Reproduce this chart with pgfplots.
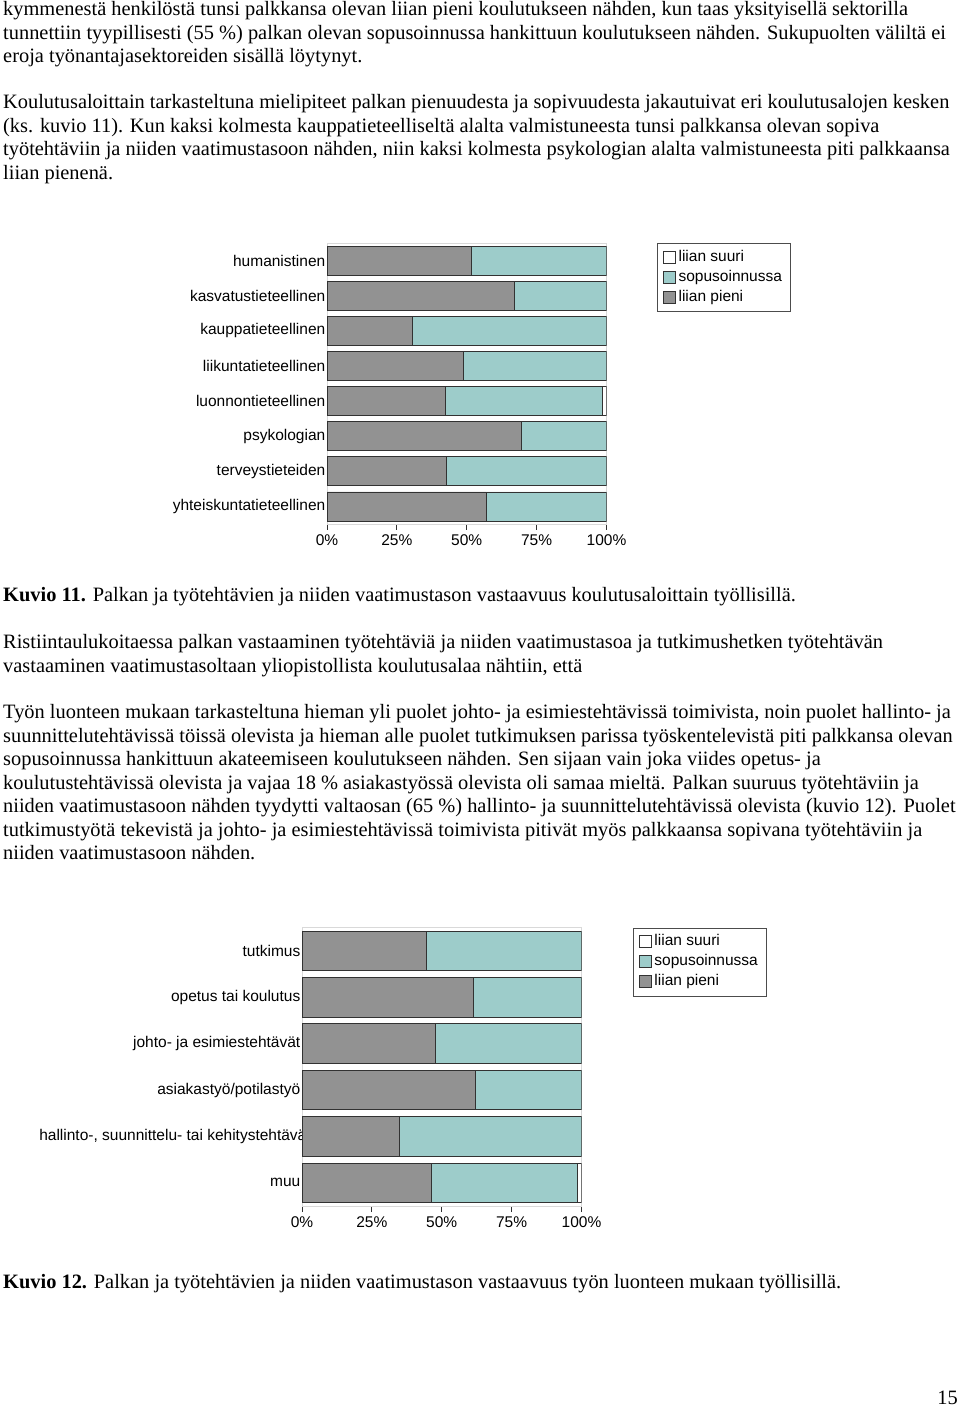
\documentclass[border=0pt]{standalone}
\usepackage{fontspec}
\setmainfont{Liberation Serif}
\newfontfamily\chartfont{Liberation Sans}
\usepackage{pgfplots}
\pgfplotsset{compat=1.18}

\definecolor{pieni}{RGB}{146,146,146}
\definecolor{sopu}{RGB}{157,204,202}
\definecolor{reuna}{RGB}{50,50,50}

% one line of body text, #1 = baseline measured from the top of the page
\newcommand\rivi[2]{\node[anchor=base west, inner sep=0pt,
  font=\fontsize{20.4}{23.5}\selectfont] at (3,{1408-#1}) {#2};}

\pgfplotsset{
  palkit/.style={
    xbar stacked, scale only axis, width=279.5pt,
    xmin=0, xmax=100, y dir=reverse,
    axis line style={black!15},
    xtick={0,25,50,75,100},
    xticklabels={0\%,25\%,50\%,75\%,100\%},
    xtick pos=bottom, tick align=outside, major tick length=6pt,
    xtick style={draw=reuna, line width=0.9pt},
    ytick style={draw=none},
    tick label style={font=\chartfont\fontsize{15.5}{18}\selectfont},
    xticklabel style={text height=11pt, text depth=3pt, yshift=-1pt},
    yticklabel style={xshift=6pt, inner xsep=1.5pt},
    every axis plot/.append style={draw=reuna, line width=0.8pt},
    reverse legend,
    legend style={anchor=north west, draw=black!70,
      font=\chartfont\fontsize{15.5}{18}\selectfont,
      inner xsep=6pt, inner ysep=4pt,
      nodes={inner xsep=2.5pt, inner ysep=2pt, text height=12pt, text depth=4pt},
      cells={anchor=west}},
    legend image code/.code={\draw[#1] (0pt,-6pt) rectangle (12pt,6pt);},
  }
}

\begin{document}
\begin{tikzpicture}[x=1pt,y=1pt]
\path[use as bounding box] (0,0) rectangle (960,1408);

\rivi{16}{kymmenestä henkilöstä tunsi palkkansa olevan liian pieni koulutukseen nähden, kun taas yksityisellä sektorilla}
\rivi{39.5}{tunnettiin tyypillisesti (55 \%) palkan olevan sopusoinnussa hankittuun koulutukseen nähden. Sukupuolten väliltä ei}
\rivi{63}{eroja työnantajasektoreiden sisällä löytynyt.}

\rivi{109}{Koulutusaloittain tarkasteltuna mielipiteet palkan pienuudesta ja sopivuudesta jakautuivat eri koulutusalojen kesken}
\rivi{132.5}{(ks. kuvio 11). Kun kaksi kolmesta kauppatieteelliseltä alalta valmistuneesta tunsi palkkansa olevan sopiva}
\rivi{156}{työtehtäviin ja niiden vaatimustasoon nähden, niin kaksi kolmesta psykologian alalta valmistuneesta piti palkkaansa}
\rivi{179.5}{liian pienenä.}

\begin{axis}[palkit, at={(327pt,884pt)}, anchor=south west,
    height=281pt, ymin=0.5, ymax=8.5, bar width=29pt,
    ytick={1,...,8},
    yticklabels={humanistinen, kasvatustieteellinen, kauppatieteellinen,
      liikuntatieteellinen, luonnontieteellinen, psykologian,
      terveystieteiden, yhteiskuntatieteellinen},
    legend style={at={(1.181,1)}}]
\addplot[fill=pieni] coordinates {(51.8,1) (67.0,2) (30.5,3) (48.7,4)
  (42.4,5) (69.4,6) (42.6,7) (56.9,8)};
\addplot[fill=sopu] coordinates {(48.2,1) (33.0,2) (69.5,3) (51.3,4)
  (56.2,5) (30.6,6) (57.4,7) (43.1,8)};
\addplot[fill=white] coordinates {(0,1) (0,2) (0,3) (0,4)
  (1.4,5) (0,6) (0,7) (0,8)};
\legend{liian pieni, sopusoinnussa, liian suuri}
\end{axis}

\rivi{602}{\textbf{Kuvio 11.} Palkan ja työtehtävien ja niiden vaatimustason vastaavuus koulutusaloittain työllisillä.}

\rivi{649}{Ristiintaulukoitaessa palkan vastaaminen työtehtäviä ja niiden vaatimustasoa ja tutkimushetken työtehtävän}
\rivi{672.5}{vastaaminen vaatimustasoltaan yliopistollista koulutusalaa nähtiin, että}

\rivi{719}{Työn luonteen mukaan tarkasteltuna hieman yli puolet johto- ja esimiestehtävissä toimivista, noin puolet hallinto- ja}
\rivi{742.5}{suunnittelutehtävissä töissä olevista ja hieman alle puolet tutkimuksen parissa työskentelevistä piti palkkansa olevan}
\rivi{766}{sopusoinnussa hankittuun akateemiseen koulutukseen nähden. Sen sijaan vain joka viides opetus- ja}
\rivi{789.5}{koulutustehtävissä olevista ja vajaa 18 \% asiakastyössä olevista oli samaa mieltä. Palkan suuruus työtehtäviin ja}
\rivi{813}{niiden vaatimustasoon nähden tyydytti valtaosan (65 \%) hallinto- ja suunnittelutehtävissä olevista (kuvio 12). Puolet}
\rivi{836.5}{tutkimustyötä tekevistä ja johto- ja esimiestehtävissä toimivista pitivät myös palkkaansa sopivana työtehtäviin ja}
\rivi{860}{niiden vaatimustasoon nähden.}

\begin{axis}[palkit, at={(302pt,202pt)}, anchor=south west,
    height=278.4pt, ymin=0.5, ymax=6.5, bar width=39.5pt,
    ytick={1,...,6},
    yticklabels={tutkimus, opetus tai koulutus, johto- ja esimiestehtävät,
      asiakastyö/potilastyö,
      \makebox[261pt][l]{hallinto-, suunnittelu- tai kehitystehtävät},
      muu},
    legend style={at={(1.184,1)}}]
\addplot[fill=pieni] coordinates {(44.5,1) (61.2,2) (47.8,3) (62.1,4)
  (34.8,5) (46.2,6)};
\addplot[fill=sopu] coordinates {(55.5,1) (38.8,2) (52.2,3) (37.9,4)
  (65.2,5) (52.3,6)};
\addplot[fill=white] coordinates {(0,1) (0,2) (0,3) (0,4) (0,5) (1.5,6)};
\legend{liian pieni, sopusoinnussa, liian suuri}
\end{axis}

\rivi{1289}{\textbf{Kuvio 12.} Palkan ja työtehtävien ja niiden vaatimustason vastaavuus työn luonteen mukaan työllisillä.}

\node[anchor=base east, inner sep=0pt, font=\fontsize{20.4}{23.5}\selectfont]
  at (958,3) {15};
\end{tikzpicture}
\end{document}
